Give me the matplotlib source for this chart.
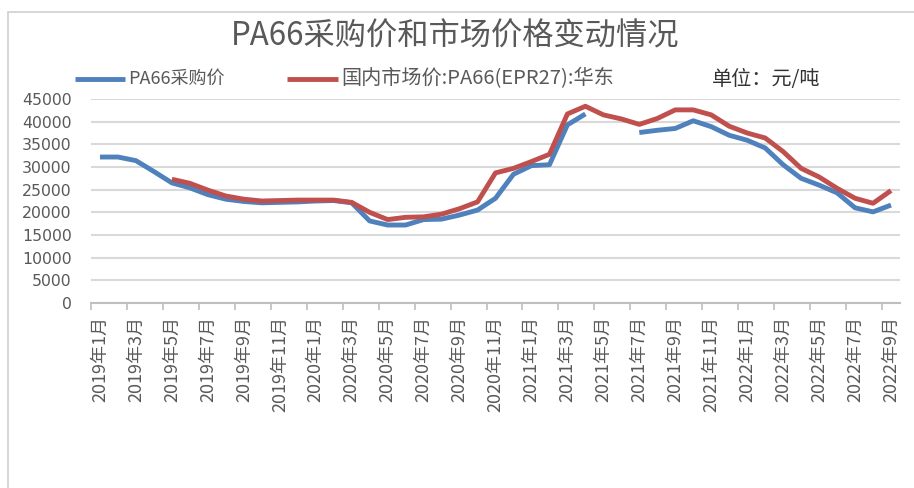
import numpy as np
import matplotlib
matplotlib.use("Agg")
import matplotlib.pyplot as plt
from matplotlib.lines import Line2D
from matplotlib.patches import Rectangle

plt.rcParams['font.family'] = ['Noto Sans CJK SC', 'DejaVu Sans']

months = [f"{y}年{m}月" for y in (2019, 2020, 2021, 2022) for m in range(1, 13)][:45]

purchase = [32200, 32200, 31400, 29000, 26500, 25400, 23900, 22900, 22400, 22100,
            22200, 22300, 22500, 22600, 22100, 18100, 17200, 17200, 18400, 18500,
            19400, 20500, 23100, 28400, 30300, 30500, 39300, 41700, np.nan, np.nan,
            37600, 38100, 38500, 40200, 38900, 37000, 35900, 34200, 30500, 27500,
            26000, 24300, 21000, 20100, 21600]

market = [np.nan, np.nan, np.nan, np.nan, 27300, 26400, 24900, 23600, 22900, 22500,
          22600, 22700, 22700, 22700, 22200, 20000, 18400, 18900, 19000, 19600,
          20800, 22300, 28700, 29700, 31200, 32800, 41700, 43400, 41500, 40600,
          39400, 40700, 42600, 42600, 41500, 39000, 37500, 36400, 33400, 29700,
          27800, 25300, 23100, 22000, 24800]

series_names = ["PA66采购价", "国内市场价:PA66(EPR27):华东"]
title = "PA66采购价和市场价格变动情况"
unit_text = "单位：元/吨"
yticks = list(range(0, 45001, 5000))

W, H = 914, 488
fig = plt.figure(figsize=(W / 100, H / 100), dpi=100)
fig.patch.set_facecolor('white')

# chart border (top and left visible)
fig.add_artist(Rectangle((8 / W, -0.1), 1.2, (1 - 12 / H) + 0.1, transform=fig.transFigure,
                         fill=False, edgecolor='#D0D0D0', linewidth=1.2))

ax = fig.add_axes([91 / W, 1 - 303 / H, 809 / W, 204 / H])
x = np.arange(len(months))
blue = '#4F81BD'
red = '#C0504D'
lw = 3.5
ax.plot(x, purchase, color=blue, linewidth=lw, solid_capstyle='butt', zorder=3)
ax.plot(x, market, color=red, linewidth=lw, solid_capstyle='butt', zorder=3)

ax.set_xlim(-0.5, len(months) - 0.5)
ax.set_ylim(0, 45000)
ax.set_yticks(yticks)
ax.set_yticklabels([str(v) for v in yticks], family=['DejaVu Sans'], fontsize=11.3, color='#595959')
ax.yaxis.grid(True, color='#D9D9D9', linewidth=1.5)
ax.set_axisbelow(True)
ax.tick_params(axis='y', length=0, pad=14)

for s in ['top', 'right', 'left']:
    ax.spines[s].set_visible(False)
ax.spines['bottom'].set_color('#BFBFBF')
ax.spines['bottom'].set_linewidth(1.5)
ax.spines['bottom'].set_zorder(2)

# tick marks at category boundaries every 2 categories
ax.set_xticks(np.arange(-0.5, len(months) - 1, 2))
ax.set_xticklabels([])
ax.tick_params(axis='x', which='major', length=5, width=1.2, color='#BFBFBF', direction='out')
# labels at category centers every 2 categories
ax.set_xticks(x[::2], minor=True)
ax.set_xticklabels([months[i] for i in x[::2]], minor=True, rotation=90, fontsize=13,
                   color='#595959', va='top', ha='center')
ax.tick_params(axis='x', which='minor', length=0, pad=9)

fig.text(455 / W, 1 - 37 / H, title, ha='center', va='center', fontsize=22.5, color='#595959')

# legend drawn manually to match the reference layout
ly = 1 - 79 / H
fig.add_artist(Line2D([75 / W, 125 / W], [ly, ly], transform=fig.transFigure, color=blue,
                      linewidth=lw, solid_capstyle='butt'))
fig.text(128 / W, ly, series_names[0], ha='left', va='center', fontsize=13, color='#595959')
fig.add_artist(Line2D([287 / W, 338 / W], [ly, ly], transform=fig.transFigure, color=red,
                      linewidth=lw, solid_capstyle='butt'))
fig.text(341 / W, ly, series_names[1], ha='left', va='center', fontsize=14.5, color='#595959')

fig.text(712 / W, ly, unit_text, ha='left', va='center', fontsize=14.5, color='#333333')

fig.savefig('out.png', dpi=100, facecolor='white')
